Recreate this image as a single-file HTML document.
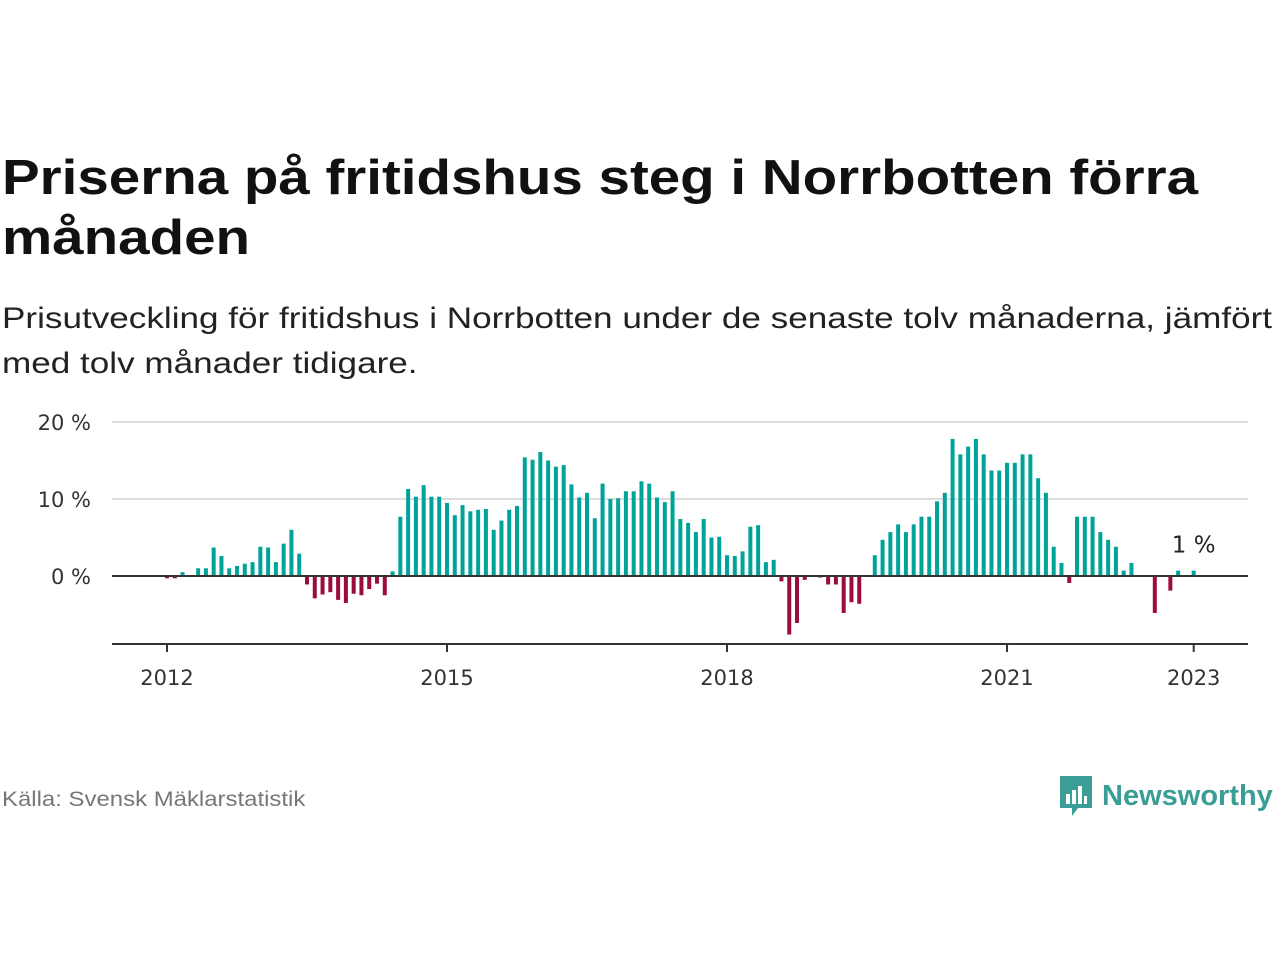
<!DOCTYPE html>
<html><head><meta charset="utf-8"><style>
body{margin:0;width:1280px;height:960px;background:#fff;font-family:"Liberation Sans",sans-serif;overflow:hidden;position:relative}
#title{position:absolute;left:2px;top:148px;font-size:49px;font-weight:bold;color:#111;line-height:60px;transform:scaleX(1.153);transform-origin:0 0;white-space:nowrap}
#sub{position:absolute;left:2px;top:296px;font-size:30px;color:#222;line-height:45px;transform:scaleX(1.17);transform-origin:0 0;white-space:nowrap}
#src{position:absolute;left:2px;top:788px;font-size:21px;color:#777;transform:scaleX(1.14);transform-origin:0 0;white-space:nowrap}
#logo{position:absolute;left:1058px;top:774px;display:flex;align-items:center}
#logo span{font-size:29px;color:#3a9e96;font-weight:bold;margin-left:8px}
</style></head><body>
<div id="title">Priserna på fritidshus steg i Norrbotten förra<br>månaden</div>
<div id="sub">Prisutveckling för fritidshus i Norrbotten under de senaste tolv månaderna, jämfört<br>med tolv månader tidigare.</div>
<svg id="chart" width="1280" height="960" style="position:absolute;left:0;top:0"></svg>
<div id="src">Källa: Svensk Mäklarstatistik</div>
<div id="logo">
<svg width="36" height="44" viewBox="0 0 36 44"><path d="M2 2h32v32H20l-6 8v-8H2z" fill="#3a9e96"/><rect x="8" y="20" width="4" height="10" fill="#fff"/><rect x="14" y="16" width="4" height="14" fill="#fff"/><rect x="20" y="12" width="4" height="18" fill="#fff"/><rect x="26" y="22" width="3" height="8" fill="#fff"/></svg>
<span>Newsworthy</span></div>
<script>
const startYear = 2012;
const values = [
-0.3,-0.3,0.5,null,1.0,1.0,3.7,2.6,1.0,1.3,1.6,1.8,
3.8,3.7,1.8,4.2,6.0,2.9,-1.1,-2.9,-2.4,-2.1,-3.1,-3.5,
-2.3,-2.5,-1.7,-1.0,-2.5,0.6,7.7,11.3,10.3,11.8,10.3,10.3,
9.5,7.9,9.2,8.4,8.6,8.7,6.0,7.2,8.6,9.1,15.4,15.1,
16.1,15.0,14.2,14.4,11.9,10.2,10.8,7.5,12.0,10.0,10.1,11.0,
11.0,12.3,12.0,10.2,9.6,11.0,7.4,6.9,5.7,7.4,5.0,5.1,
2.7,2.6,3.2,6.4,6.6,1.8,2.1,-0.7,-7.6,-6.1,-0.5,null,
-0.2,-1.1,-1.1,-4.8,-3.4,-3.6,null,2.7,4.7,5.7,6.7,5.7,
6.7,7.7,7.7,9.7,10.8,17.8,15.8,16.8,17.8,15.8,13.7,13.7,
14.7,14.7,15.8,15.8,12.7,10.8,3.8,1.7,-0.9,7.7,7.7,7.7,
5.7,4.7,3.8,0.7,1.7,null,null,-4.8,null,-1.9,0.7,null,
0.7];
const yTicks = [0,10,20];
const xTickYears = [2012,2015,2018,2021,2023];
const lastLabel = "1 %";

const NS="http://www.w3.org/2000/svg";
const svg=document.getElementById('chart');
const x0=167, mw=7.778, y0=576, py=7.7;
const FONT='DejaVu Sans, Liberation Sans, sans-serif';
const X=m=>x0+m*mw, Y=v=>y0-v*py;
function el(t,a){const e=document.createElementNS(NS,t);for(const k in a)e.setAttribute(k,a[k]);svg.appendChild(e);return e;}
yTicks.forEach(t=>{
  if(t!==0){const g=el('line',{x1:112,x2:1248,y1:Y(t),y2:Y(t),stroke:'#ddd','stroke-width':2});
  
  }
  const l=el('text',{x:91,y:Y(t)+8,'text-anchor':'end','font-size':21,fill:'#333','font-family':FONT});
  l.textContent=t+' %';
  
  
});
values.forEach((v,i)=>{
  if(v===null)return;
  const r=el('rect',{x:X(i)-2,y:Math.min(Y(v),y0),width:4,height:Math.abs(v*py),fill:v>=0?'#00a39a':'#9b0b3f'});
  
  
});
const z=el('line',{x1:112,x2:1248,y1:y0,y2:y0,stroke:'#333','stroke-width':2});


const ax=el('line',{x1:112,x2:1248,y1:644,y2:644,stroke:'#333','stroke-width':2});


xTickYears.forEach(yr=>{
  const xx=X((yr-startYear)*12);
  const t=el('line',{x1:xx,x2:xx,y1:644,y2:652,stroke:'#333','stroke-width':2});
  
  
  const l=el('text',{x:xx,y:685,'text-anchor':'middle','font-size':21,fill:'#333','font-family':FONT});
  l.textContent=yr;
  
  
});
const li=values.length-1;
const ll=el('text',{x:X(li),y:Y(values[li])-18,'text-anchor':'middle','font-size':23,fill:'#222','font-family':FONT});
ll.textContent=lastLabel;


</script>
</body></html>
